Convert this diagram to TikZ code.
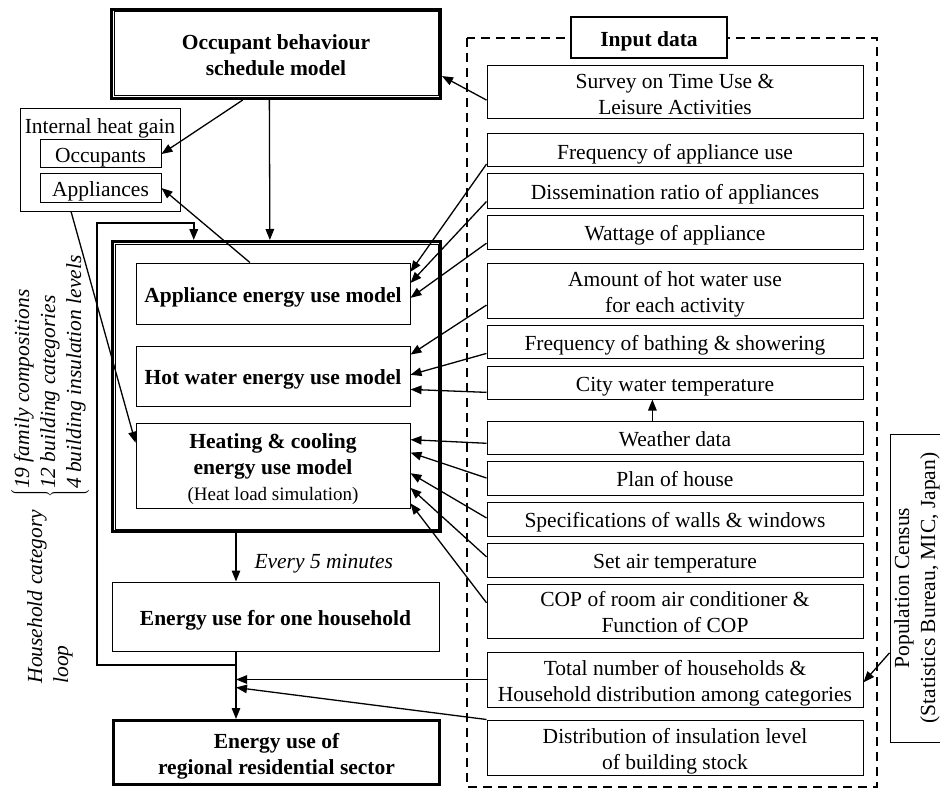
\documentclass[tikz,border=0pt]{standalone}
\usepackage{fontspec}
\setmainfont{Liberation Serif}
\usetikzlibrary{arrows.meta,calc}
\newcommand{\figfont}{\fontsize{21.5}{26}\selectfont}
\newcommand{\bx}[1]{\raisebox{-3.5pt}[\height][\depth]{\begin{tabular}{@{}c@{}}#1\end{tabular}}}
\tikzset{every picture/.style={line width=1pt}}
\tikzset{
  box/.style={draw, line width=1pt, inner sep=0pt, align=center},
  bbox/.style={box, font=\figfont\bfseries},
  inbox/.style={box, minimum width=376pt},
  arr/.style={-{Triangle[length=11pt,width=8.5pt]}, line width=1.3pt},
}

\begin{document}
\begin{tikzpicture}[x=1pt,y=1pt,yscale=-1,xscale=1,font=\figfont]
\useasboundingbox (0,0) rectangle (940,789);

%Dashed frame: input data
\draw [line width=2pt, dash pattern=on 9pt off 6pt] (467,38) rectangle (877,787);
\node [box, line width=1.5pt, fill=white, font=\figfont\bfseries, minimum width=156pt, minimum height=41pt] (inp) at (649,37.5) {\bx{Input data}};

%Models (double frames)
\node [bbox, line width=3pt, minimum width=329pt, minimum height=89pt] (occ) at (276,54) {\bx{Occupant behaviour\\schedule model}};
\node [bbox, line width=3pt, minimum width=328pt, minimum height=290pt] (models) at (276.5,386.5) {};
\draw ([shift={(4,4)}]occ.north west) rectangle ([shift={(-4,-4)}]occ.south east);
\draw ([shift={(4,4)}]models.north west) rectangle ([shift={(-4,-4)}]models.south east);

\node [bbox, minimum width=274pt, minimum height=61pt] (appm) at (273,293.5) {\bx{Appliance energy use model}};
\node [bbox, minimum width=274pt, minimum height=60pt] (hotm) at (273,376) {\bx{Hot water energy use model}};
\node [box, minimum width=274pt, minimum height=85pt] (heatm) at (273,465.5) {\bx{\textbf{Heating \& cooling}\\\textbf{energy use model}\\{\fontsize{19}{22}\selectfont (Heat load simulation)}}};

\node [bbox, minimum width=327pt, minimum height=69pt] (hh) at (275.5,616.5) {\bx{Energy use for one household}};
\node [bbox, line width=3pt, minimum width=326pt, minimum height=64pt] (reg) at (276.5,752.5) {\bx{Energy use of\\regional residential sector}};

%Internal heat gain
\node [box, minimum width=160pt, minimum height=102pt] (ihg) at (100,160) {};
\node [inner sep=0pt] (ihgt) at (100,128) {Internal heat gain};
\node [box, minimum width=121pt, minimum height=28pt] (occp) at (100.5,154) {\bx{Occupants}};
\node [box, minimum width=121pt, minimum height=28pt] (appl) at (100.5,188) {\bx{Appliances}};

%Input boxes
\node [inbox, minimum height=53pt] (survey) at (675,92.5) {\bx{Survey on Time Use \&\\Leisure Activities}};
\node [inbox, minimum height=33pt] (freq) at (675,150.5) {\bx{Frequency of appliance use}};
\node [inbox, minimum height=34pt] (dissem) at (675,191) {\bx{Dissemination ratio of appliances}};
\node [inbox, minimum height=34pt] (watt) at (675,232) {\bx{Wattage of appliance}};
\node [inbox, minimum height=55pt] (amount) at (675,290.5) {\bx{Amount of hot water use\\for each activity}};
\node [inbox, minimum height=33pt] (bath) at (675,341.5) {\bx{Frequency of bathing \& showering}};
\node [inbox, minimum height=33pt] (city) at (675,382.5) {\bx{City water temperature}};
\node [inbox, minimum height=33pt] (weather) at (675,437.5) {\bx{Weather data}};
\node [inbox, minimum height=34pt] (plan) at (675,478) {\bx{Plan of house}};
\node [inbox, minimum height=34pt] (spec) at (675,519) {\bx{Specifications of walls \& windows}};
\node [inbox, minimum height=34pt] (setair) at (675,560) {\bx{Set air temperature}};
\node [inbox, minimum height=54pt] (cop) at (675,611) {\bx{COP of room air conditioner \&\\Function of COP}};
\node [inbox, minimum height=55pt] (total) at (675,679.5) {\bx{Total number of households \&\\Household distribution among categories}};
\node [inbox, minimum height=55pt] (dist) at (675,747.5) {\bx{Distribution of insulation level\\of building stock}};

%Population census
\node [box, minimum width=58pt, minimum height=308pt] (census) at (919,588) {};
\node [rotate=90, align=center, inner sep=0pt] (censust) at (917,588) {Population Census\\(Statistics Bureau, MIC, Japan)};

%Side texts
\node [rotate=90, anchor=west, inner sep=0pt, font=\figfont\itshape] (hcl) at (50,684) {\begin{tabular}{@{}l@{}}Household category\\loop\end{tabular}\hspace{12pt}$\left\{\begin{tabular}{@{}l@{}}19 family compositions\\12 building categories\\4 building insulation levels\end{tabular}\right.$};
\node [anchor=west, inner sep=0pt, font=\figfont\itshape] (every) at (254,564) {Every 5 minutes};

%Arrows between models
\draw [arr] ($(survey.north west)!0.64!(survey.south west)$) -- ($(occ.north east)!0.74!(occ.south east)$);
\draw [arr] ($(occ.south west)!0.40!(occ.south east)$) -- (occp.east);
\draw [arr] ($(occ.south west)!0.48!(occ.south east)$) -- ($(models.north west)!0.48!(models.north east)$);
\draw [arr] ($(appm.north west)!0.416!(appm.north east)$) -- (appl.east);
\draw [arr] ($(ihg.south west)!0.32!(ihg.south east)$) -- ($(heatm.north west)!0.235!(heatm.south west)$);

%Household loop
\coordinate (jn) at (236,665);
\draw [arr, line width=2pt] (jn) -| (97,223) -| ($(models.north west)!0.25!(models.north east)$);
\draw [arr] (models.south -| jn) -- (hh.north -| jn);
\draw [arr] (hh.south -| jn) -- (reg.north -| jn);

%Inputs to appliance model
\draw [arr] ($(freq.north west)!0.9!(freq.south west)$) -- ($(appm.north east)!0.15!(appm.south east)$);
\draw [arr] ($(dissem.north west)!0.8!(dissem.south west)$) -- ($(appm.north east)!0.33!(appm.south east)$);
\draw [arr] ($(watt.north west)!0.82!(watt.south west)$) -- ($(appm.north east)!0.57!(appm.south east)$);
%Inputs to hot water model
\draw [arr] ($(amount.north west)!0.76!(amount.south west)$) -- ($(hotm.north east)!0.15!(hotm.south east)$);
\draw [arr] ($(bath.north west)!0.85!(bath.south west)$) -- ($(hotm.north east)!0.48!(hotm.south east)$);
\draw [arr] ($(city.north west)!0.79!(city.south west)$) -- ($(hotm.north east)!0.72!(hotm.south east)$);
\draw [arr] ($(weather.north west)!0.44!(weather.north east)$) -- ($(city.south west)!0.44!(city.south east)$);
%Inputs to heating & cooling model
\draw [arr] ($(weather.north west)!0.67!(weather.south west)$) -- ($(heatm.north east)!0.2!(heatm.south east)$);
\draw [arr] ($(plan.north west)!0.5!(plan.south west)$) -- ($(heatm.north east)!0.35!(heatm.south east)$);
\draw [arr] ($(spec.north west)!0.47!(spec.south west)$) -- ($(heatm.north east)!0.59!(heatm.south east)$);
\draw [arr] ($(setair.north west)!0.41!(setair.south west)$) -- ($(heatm.north east)!0.76!(heatm.south east)$);
\draw [arr] ($(cop.north west)!0.35!(cop.south west)$) -- ($(heatm.north east)!0.94!(heatm.south east)$);
%Inputs to regional sector
\draw [arr] (total.west) -- (total.west -| jn);
\draw [arr] (dist.north west) -- ($(total.west -| jn)+(0,8)$);
\draw [arr] ($(census.north west)!0.71!(census.south west)$) -- ($(total.north east)!0.55!(total.south east)$);

\end{tikzpicture}
\end{document}
